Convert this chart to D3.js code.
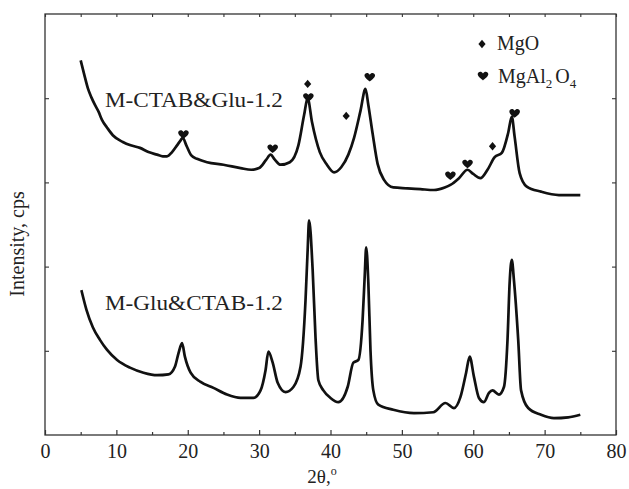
<!DOCTYPE html>
<html>
<head>
<meta charset="utf-8">
<script src="https://cdn.jsdelivr.net/npm/d3@7"></script>
<style>
  html, body { margin: 0; padding: 0; background: #fff; }
  svg { display: block; }
  text { font-family: "Liberation Serif", "Times New Roman", serif; fill: #222; }
</style>
</head>
<body>
<svg id="chart" width="629" height="489"></svg>
<script>
// XRD patterns: [2θ (degrees), intensity (a.u.)]
const ctabGlu = [
  [5.0, 445], [5.5, 428], [6.0, 412], [6.5, 401], [7.0, 392], [7.5, 384], [8.0, 374],
  [8.7, 365], [9.5, 356], [10.9, 348], [12.0, 344], [13.3, 341], [14.5, 336],
  [15.7, 333], [16.5, 331], [17.1, 331], [17.8, 336], [18.5, 344], [19.0, 350],
  [19.3, 353], [19.8, 344], [20.5, 332], [21.3, 328], [22.7, 324], [25.0, 321],
  [27.4, 317], [28.9, 315], [30.0, 317], [31.0, 327], [31.6, 333], [32.2, 327],
  [33.0, 321], [34.3, 324], [35.5, 344], [36.3, 380], [36.8, 400], [37.4, 372],
  [38.5, 336], [39.5, 321], [40.5, 312], [41.5, 318], [42.5, 333], [43.3, 353],
  [44.2, 385], [44.9, 411], [45.3, 392], [45.9, 358], [46.6, 322], [47.5, 303],
  [48.8, 294], [50.8, 293], [52.6, 292], [54.5, 291], [56.0, 294], [56.8, 297],
  [58.0, 305], [59.2, 315], [60.0, 310], [61.0, 305], [62.0, 315], [63.0, 330],
  [64.0, 335], [64.9, 359], [65.4, 378], [65.8, 354], [66.5, 311], [67.5, 295],
  [69.5, 289], [72.0, 285], [75.0, 285]
];

const gluCtab = [
  [5.1, 172], [5.8, 149], [6.7, 128], [7.7, 113], [8.7, 101], [10.1, 89], [11.9, 80],
  [13.8, 74], [15.7, 71], [17.3, 72], [18.2, 81], [18.7, 97], [19.2, 109], [19.6, 93],
  [20.4, 74], [21.8, 63], [23.6, 56], [25.5, 48], [27.4, 44], [29.2, 44], [30.2, 53],
  [30.9, 77], [31.3, 99], [31.9, 86], [32.6, 62], [33.7, 51], [34.8, 57], [35.8, 81],
  [36.5, 160], [36.8, 220], [37.0, 255], [37.5, 196], [37.9, 116], [38.3, 65],
  [39.0, 53], [40.0, 44], [41.1, 39], [42.4, 57], [43.2, 86], [43.9, 89], [44.5, 137],
  [44.8, 190], [45.0, 223], [45.3, 181], [45.6, 101], [46.0, 53], [46.7, 36],
  [48.8, 30], [51.7, 26], [54.4, 27], [56.1, 38], [57.3, 32], [58.2, 45], [59.0, 74],
  [59.5, 93], [60.1, 69], [60.8, 44], [61.5, 39], [62.2, 50], [62.7, 53], [63.6, 48],
  [64.3, 57], [64.8, 113], [65.1, 181], [65.4, 208], [65.7, 184], [66.3, 113],
  [66.7, 53], [67.7, 32], [69.5, 24], [71.3, 20], [73.3, 21], [75.0, 24]
];

// Phase reflections marked above the upper pattern: [2θ, marker height]
const mgoPeaks = [[36.8, 417], [42.2, 379], [62.7, 343]];
const spinelPeaks = [
  [19.4, 357], [31.9, 340], [36.9, 401], [45.5, 425],
  [56.8, 308], [59.2, 322], [65.8, 382]
];

const xTicks = [0, 10, 20, 30, 40, 50, 60, 70, 80];
const xMinorTicks = [5, 15, 25, 35, 45, 55, 65, 75];
const yTicks = [100, 200, 300, 400];

const sampleLabels = [
  { name: "M-CTAB&Glu-1.2", x: 8.4, y: 389 },
  { name: "M-Glu&CTAB-1.2", x: 8.4, y: 149 }
];

const svg = d3.select("#chart");
const margin = { left: 45, right: 13, top: 14, bottom: 54 };
const W = 629, H = 489;
const x = d3.scaleLinear().domain([0, 80]).range([margin.left, W - margin.right]);
const y = d3.scaleLinear().domain([0, 500]).range([H - margin.bottom, margin.top]);

const axisColor = "#333";

// frame
svg.append("rect")
  .attr("x", x(0)).attr("y", y(500))
  .attr("width", x(80) - x(0)).attr("height", y(0) - y(500))
  .attr("fill", "none").attr("stroke", axisColor).attr("stroke-width", 1.3);

// bottom axis: inward ticks, labels below
const bottom = svg.append("g").attr("transform", `translate(0,${y(0)})`)
  .call(d3.axisBottom(x).tickValues(xTicks).tickSize(-5).tickPadding(9).tickFormat(d3.format("d")));
bottom.select(".domain").remove();
bottom.selectAll(".tick line").attr("stroke", axisColor).attr("stroke-width", 1.2);
bottom.selectAll(".tick text").attr("font-size", 20)
  .attr("font-family", "Liberation Serif, serif").attr("fill", "#222");
svg.append("g").attr("transform", `translate(0,${y(0)})`)
  .call(d3.axisBottom(x).tickValues(xMinorTicks).tickSize(-3).tickFormat(""))
  .call(g => g.select(".domain").remove())
  .selectAll(".tick line").attr("stroke", axisColor).attr("stroke-width", 1.2);

// top axis: small inward ticks only
svg.append("g").attr("transform", `translate(0,${y(500)})`)
  .call(d3.axisTop(x).tickValues(xTicks.concat(xMinorTicks)).tickSize(-3).tickFormat(""))
  .call(g => g.select(".domain").remove())
  .selectAll(".tick line").attr("stroke", axisColor).attr("stroke-width", 1.1);

// left and right axes: inward ticks, no labels
svg.append("g").attr("transform", `translate(${x(0)},0)`)
  .call(d3.axisLeft(y).tickValues(yTicks).tickSize(-4).tickFormat(""))
  .call(g => g.select(".domain").remove())
  .selectAll(".tick line").attr("stroke", axisColor).attr("stroke-width", 1.1);
svg.append("g").attr("transform", `translate(${x(80)},0)`)
  .call(d3.axisRight(y).tickValues(yTicks).tickSize(-4).tickFormat(""))
  .call(g => g.select(".domain").remove())
  .selectAll(".tick line").attr("stroke", axisColor).attr("stroke-width", 1.1);

// axis titles
const xt = svg.append("text")
  .attr("x", 322).attr("y", 483)
  .attr("text-anchor", "middle").attr("font-size", 19);
xt.append("tspan").text("2θ,");
xt.append("tspan").attr("dy", -8).attr("font-size", 12).text("o");

svg.append("text")
  .attr("transform", "translate(24,244) rotate(-90)")
  .attr("text-anchor", "middle").attr("font-size", 20)
  .text("Intensity, cps");

// patterns
const line = d3.line()
  .x(d => x(d[0])).y(d => y(d[1]))
  .curve(d3.curveMonotoneX);

[ctabGlu, gluCtab].forEach(series => {
  svg.append("path")
    .datum(series)
    .attr("d", line)
    .attr("fill", "none")
    .attr("stroke", "#111")
    .attr("stroke-width", 2.7)
    .attr("stroke-linejoin", "round");
});

// sample labels
sampleLabels.forEach(l => {
  svg.append("text")
    .attr("x", x(l.x)).attr("y", y(l.y))
    .attr("font-size", 20)
    .attr("textLength", 178).attr("lengthAdjust", "spacingAndGlyphs")
    .text(l.name);
});

// phase markers
const diamondPath = "M0,-4.2 L3.6,0 L0,4.2 L-3.6,0 Z";
const heartPath = "M0,4.4 C-1.2,3.2 -5.3,0.6 -5.3,-1.7 C-5.3,-4.6 -1.4,-5.2 0,-2.5 C1.4,-5.2 5.3,-4.6 5.3,-1.7 C5.3,0.6 1.2,3.2 0,4.4 Z";

svg.append("g").selectAll("path")
  .data(mgoPeaks).join("path")
  .attr("d", diamondPath)
  .attr("transform", d => `translate(${x(d[0])},${y(d[1])})`)
  .attr("fill", "#111");

svg.append("g").selectAll("path")
  .data(spinelPeaks).join("path")
  .attr("d", heartPath)
  .attr("transform", d => `translate(${x(d[0])},${y(d[1])})`)
  .attr("fill", "#111");

// legend
const legend = svg.append("g");
legend.append("path").attr("d", diamondPath).attr("transform", "translate(482,44)").attr("fill", "#111");
legend.append("text").attr("x", 497).attr("y", 50).attr("font-size", 20)
  .attr("textLength", 42).attr("lengthAdjust", "spacingAndGlyphs").text("MgO");
legend.append("path").attr("d", heartPath).attr("transform", "translate(483,76)").attr("fill", "#111");
const sp = legend.append("text").attr("x", 498).attr("y", 83).attr("font-size", 20);
sp.append("tspan").text("MgAl");
sp.append("tspan").attr("dy", 5).attr("font-size", 13).text("2");
sp.append("tspan").attr("dy", -5).attr("dx", 3).text("O");
sp.append("tspan").attr("dy", 5).attr("font-size", 13).text("4");
</script>
</body>
</html>
